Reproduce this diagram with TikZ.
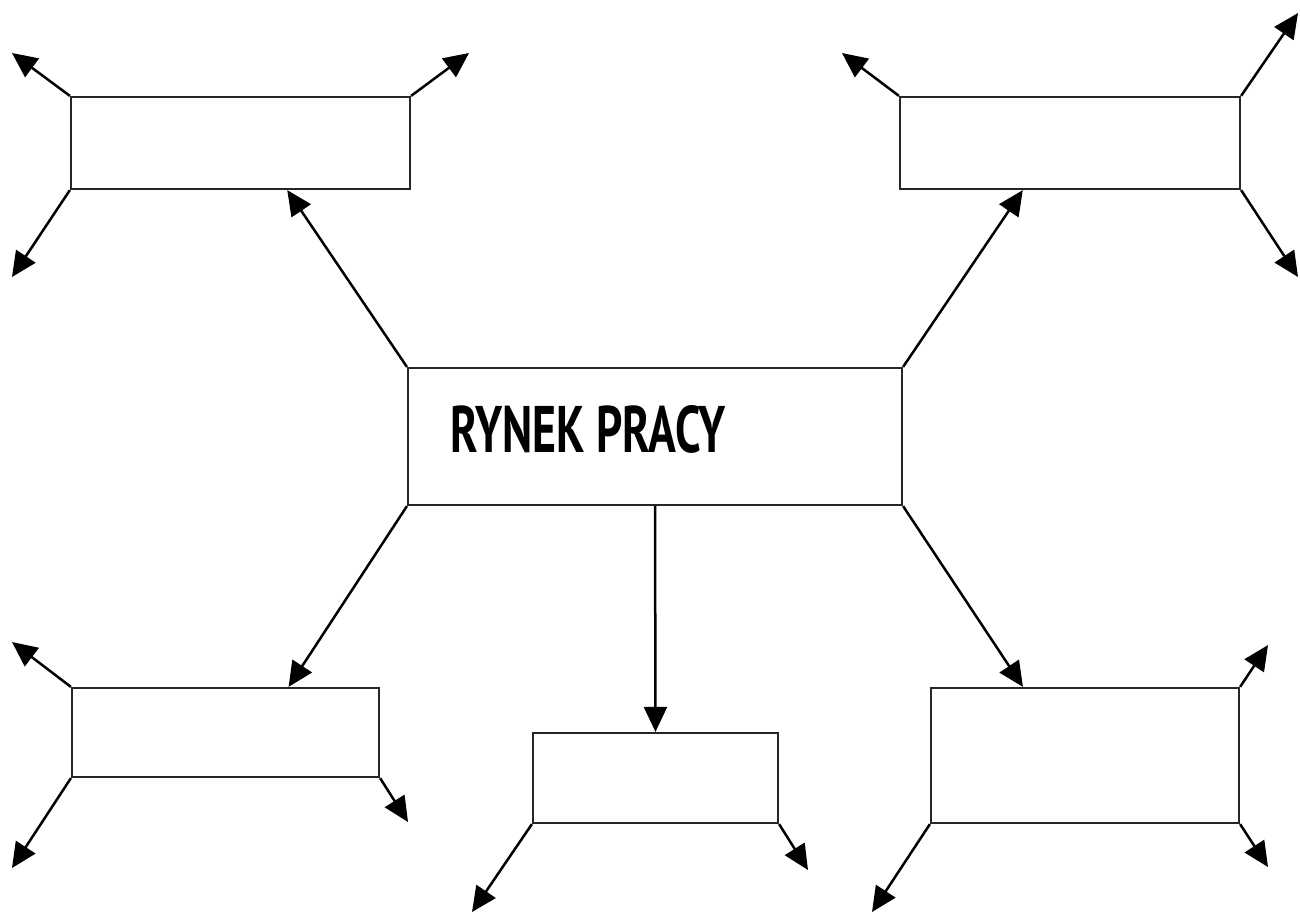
\documentclass[tikz,border=0pt]{standalone}
\usepackage{fontspec}
\setmainfont{PT Sans}
\usepackage{graphicx}
\usetikzlibrary{arrows.meta,calc}
\begin{document}
\begin{tikzpicture}[x=0.02cm,y=-0.02cm,
  box/.style={draw=black!85,line width=0.045cm,rectangle,inner sep=0pt,fill=white},
  arr/.style={draw=black,line width=0.05cm,-{Triangle[length=0.5cm,width=0.46cm]}}]
\useasboundingbox (0,0) rectangle (1300,913);
\node[box,minimum width=6.78cm,minimum height=1.84cm] (tl) at (240.5,143) {};
\node[box,minimum width=6.80cm,minimum height=1.84cm] (tr) at (1070,143) {};
\node[box,minimum width=9.88cm,minimum height=2.74cm] (ctr) at (655,436.5) {};
\node[box,minimum width=6.14cm,minimum height=1.78cm] (bl) at (225.5,732.5) {};
\node[box,minimum width=4.90cm,minimum height=1.80cm] (bm) at (655.5,778) {};
\node[box,minimum width=6.16cm,minimum height=2.70cm] (br) at (1085,755.5) {};
\node[anchor=base west,inner sep=0pt] (lbl) at (450,452) {\resizebox{5.5cm}{0.94cm}{\bfseries RYNEK PRACY}};
% free ends
\coordinate (e1) at (12,53);
\coordinate (e2) at (469,53);
\coordinate (e3) at (12,277);
\coordinate (e4) at (842,53);
\coordinate (e5) at (1298,13);
\coordinate (e6) at (1298,277);
\coordinate (e7) at (12,642);
\coordinate (e8) at (12,868);
\coordinate (e9) at (408,822);
\coordinate (e10) at (472,912);
\coordinate (e11) at (808,870);
\coordinate (e12) at (1268,645);
\coordinate (e13) at (1268,867);
\coordinate (e14) at (872,912);
% center connectors
\draw[arr] (ctr.north west) -- ($(tl.south west)!0.637!(tl.south east)$);
\draw[arr] (ctr.north east) -- ($(tr.south west)!0.362!(tr.south east)$);
\draw[arr] (ctr.south west) -- ($(bl.north west)!0.704!(bl.north east)$);
\draw[arr] (ctr.south) -- (bm.north);
\draw[arr] (ctr.south east) -- ($(br.north west)!0.30!(br.north east)$);
% corner arrows
\draw[arr] (tl.north west) -- (e1);
\draw[arr] (tl.north east) -- (e2);
\draw[arr] (tl.south west) -- (e3);
\draw[arr] (tr.north west) -- (e4);
\draw[arr] (tr.north east) -- (e5);
\draw[arr] (tr.south east) -- (e6);
\draw[arr] (bl.north west) -- (e7);
\draw[arr] (bl.south west) -- (e8);
\draw[arr] (bl.south east) -- (e9);
\draw[arr] (bm.south west) -- (e10);
\draw[arr] (bm.south east) -- (e11);
\draw[arr] (br.north east) -- (e12);
\draw[arr] (br.south east) -- (e13);
\draw[arr] (br.south west) -- (e14);
\end{tikzpicture}
\end{document}
